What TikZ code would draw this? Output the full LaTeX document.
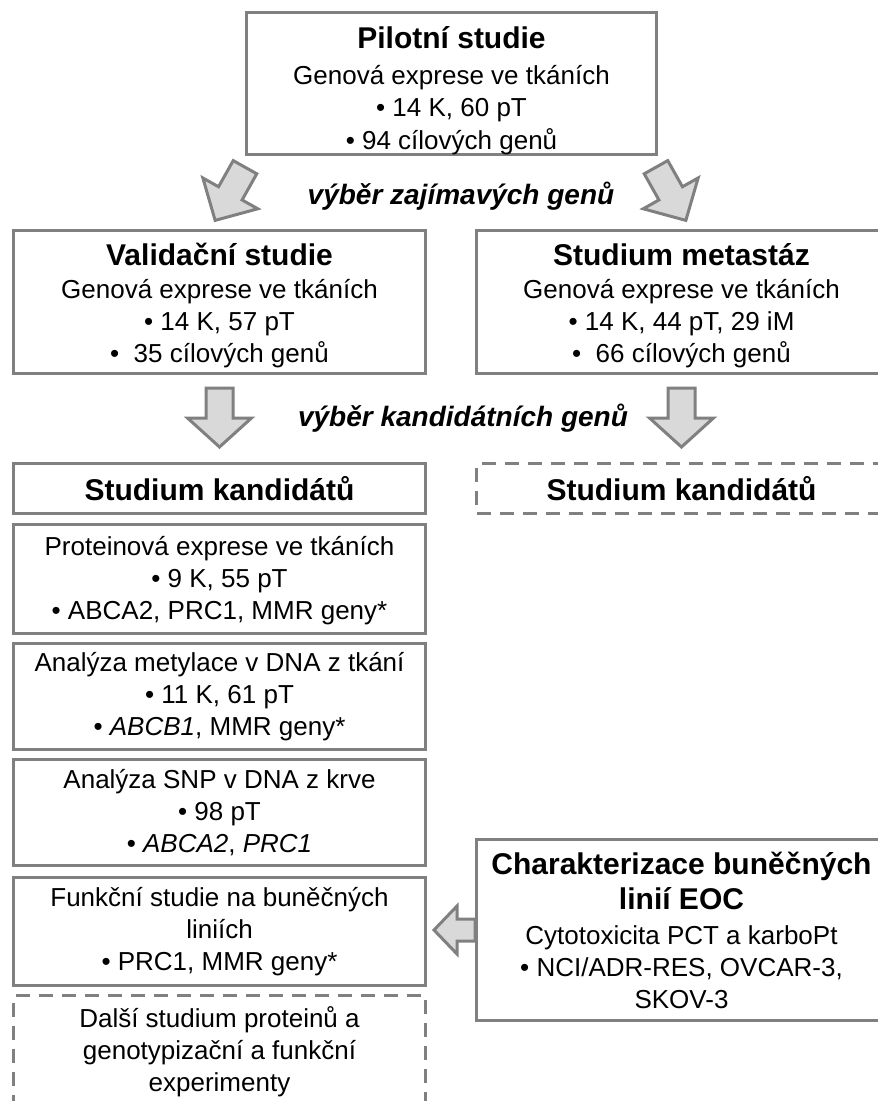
\documentclass[tikz,border=0pt]{standalone}
\usepackage{fontspec}
\setmainfont{Liberation Sans}
\usetikzlibrary{calc}
\definecolor{bordergray}{RGB}{128,128,128}
\definecolor{arrowfill}{RGB}{217,217,217}
\definecolor{arrowline}{RGB}{128,128,128}
\newcommand{\bodyfont}{\fontsize{26}{32}\selectfont}
\newcommand{\ttlfont}{\fontsize{30}{36}\selectfont\bfseries}
% origin, rotation, shaft half width, head half width, shaft length, total length
\newcommand{\myblockarrow}[6]{%
  \draw[blockarrow, shift={#1}, rotate=#2] (-#3,0) -- (#3,0) -- (#3,#5) -- (#4,#5) -- (0,#6) -- (-#4,#5) -- (-#3,#5) -- cycle;}
\begin{document}
\begin{tikzpicture}[x=1pt,y=-1pt,
  box/.style={draw=bordergray, line width=3pt, align=center, inner sep=0pt, font=\bodyfont, text=black},
  dbox/.style={box, dash pattern=on 14pt off 9pt},
  blockarrow/.style={draw=arrowline, fill=arrowfill, line width=3pt, line join=miter},
  lbl/.style={font=\fontsize{28}{32}\selectfont\bfseries\itshape, inner sep=0pt}]
\useasboundingbox (0,0) rectangle (878,1101);

\node[box, minimum width=410pt, minimum height=140pt] (pilot) at (451.5,83.5)
  {{\ttlfont\rule{0pt}{36pt}Pilotní studie}\\[4pt]
   Genová exprese ve tkáních\\[0.5pt] • 14 K, 60 pT\\[0.5pt] • 94 cílových genů};

\node[lbl] (sel1) at (461,196) {výběr zajímavých genů};

\node[box, minimum width=412pt, minimum height=143pt] (valid) at (219.5,302)
  {{\ttlfont\rule{0pt}{30pt}Validační studie}\\[1pt]
   Genová exprese ve tkáních\\ • 14 K, 57 pT\\ •\ \ 35 cílových genů};
\node[box, minimum width=410pt, minimum height=143pt] (meta) at (681.5,302)
  {{\ttlfont\rule{0pt}{30pt}Studium metastáz}\\[1pt]
   Genová exprese ve tkáních\\ • 14 K, 44 pT, 29 iM\\ •\ \ 66 cílových genů};

\node[lbl] (sel2) at (463,418) {výběr kandidátních genů};

\node[box, minimum width=412pt, minimum height=50pt] (kandL) at (219.5,488.5)
  {\ttlfont Studium kandidátů};
\node[dbox, minimum width=410pt, minimum height=50pt] (kandR) at (681.5,488.5)
  {\ttlfont Studium kandidátů};

\node[box, minimum width=412pt, minimum height=109pt] (prot) at (219.5,579)
  {\rule{0pt}{22pt}Proteinová exprese ve tkáních\\ • 9 K, 55 pT\\ • ABCA2, PRC1, MMR geny*};
\node[box, minimum width=412pt, minimum height=106pt] (mety) at (219.5,696.5)
  {Analýza metylace v DNA z tkání\\ • 11 K, 61 pT\\ • \textit{ABCB1}, MMR geny*};
\node[box, minimum width=412pt, minimum height=106pt] (snp) at (219.5,812.5)
  {Analýza SNP v DNA z krve\\ • 98 pT\\ • \textit{ABCA2}, \textit{PRC1}};
\node[box, minimum width=412pt, minimum height=108pt] (funk) at (219.5,931.5)
  {Funkční studie na buněčných\\ liniích\\ • PRC1, MMR geny*};
\node[dbox, minimum width=412pt, minimum height=112pt] (dalsi) at (219.5,1051.5)
  {Další studium proteinů a\\ genotypizační a funkční\\ experimenty};

\node[box, minimum width=410pt, minimum height=181pt] (char) at (681.5,930)
  {{\ttlfont Charakterizace buněčných}\\[3pt] {\ttlfont linií EOC}\\[3pt]
   Cytotoxicita PCT a karboPt\\ • NCI/ADR-RES, OVCAR-3,\\ SKOV-3};

\myblockarrow{($(pilot.south west)+(0,11)$)}{-29.3}{13.5}{31.5}{30}{61}
\myblockarrow{($(pilot.south east)+(-2,11)$)}{29.3}{13.5}{31.5}{30}{61}
\myblockarrow{($(valid.south)+(0,13)$)}{0}{13.5}{32}{30}{59}
\myblockarrow{($(meta.south)+(0,13)$)}{0}{13.5}{32}{30}{59}
\myblockarrow{(char.west)}{-90}{11}{24}{18}{41}
\end{tikzpicture}
\end{document}
